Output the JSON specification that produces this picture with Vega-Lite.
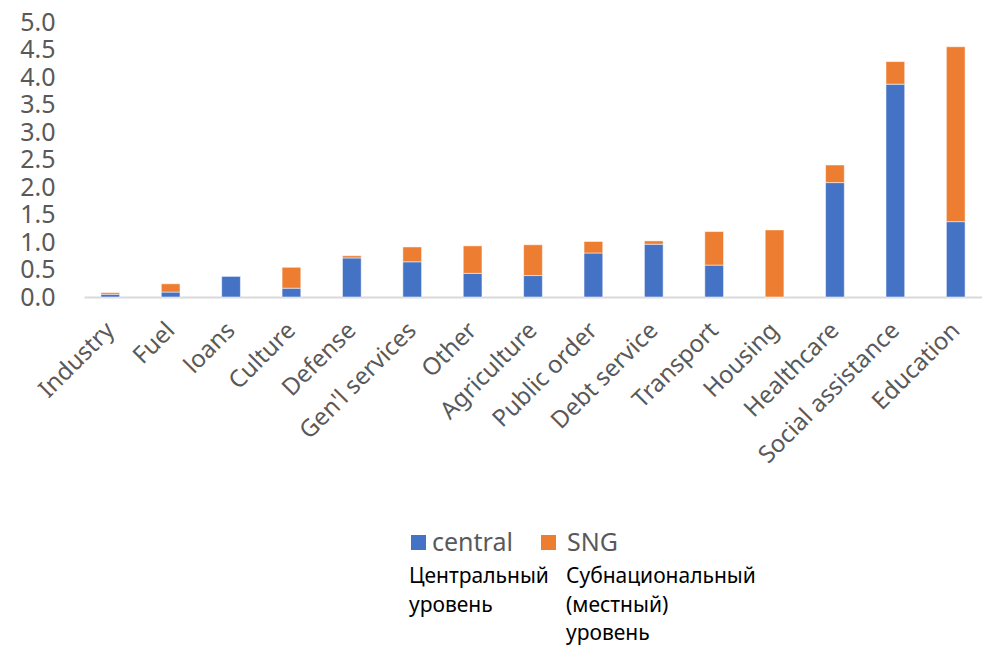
{
  "$schema": "https://vega.github.io/schema/vega-lite/v6.json",
  "autosize": {"type": "none"},
  "padding": {"left": 84, "top": 22, "right": 0, "bottom": 348},
  "width": 898,
  "height": 275,
  "background": "white",
  "data": {
    "values": [
      {"category": "Industry", "series": "central", "value": 0.05},
      {"category": "Industry", "series": "SNG", "value": 0.03},
      {"category": "Fuel", "series": "central", "value": 0.09},
      {"category": "Fuel", "series": "SNG", "value": 0.15},
      {"category": "loans", "series": "central", "value": 0.38},
      {"category": "loans", "series": "SNG", "value": 0.0},
      {"category": "Culture", "series": "central", "value": 0.16},
      {"category": "Culture", "series": "SNG", "value": 0.38},
      {"category": "Defense", "series": "central", "value": 0.71},
      {"category": "Defense", "series": "SNG", "value": 0.04},
      {"category": "Gen'l services", "series": "central", "value": 0.64},
      {"category": "Gen'l services", "series": "SNG", "value": 0.27},
      {"category": "Other", "series": "central", "value": 0.43},
      {"category": "Other", "series": "SNG", "value": 0.5},
      {"category": "Agriculture", "series": "central", "value": 0.39},
      {"category": "Agriculture", "series": "SNG", "value": 0.56},
      {"category": "Public order", "series": "central", "value": 0.8},
      {"category": "Public order", "series": "SNG", "value": 0.21},
      {"category": "Debt service", "series": "central", "value": 0.96},
      {"category": "Debt service", "series": "SNG", "value": 0.06},
      {"category": "Transport", "series": "central", "value": 0.58},
      {"category": "Transport", "series": "SNG", "value": 0.61},
      {"category": "Housing", "series": "central", "value": 0.0},
      {"category": "Housing", "series": "SNG", "value": 1.22},
      {"category": "Healthcare", "series": "central", "value": 2.08},
      {"category": "Healthcare", "series": "SNG", "value": 0.32},
      {"category": "Social assistance", "series": "central", "value": 3.87},
      {"category": "Social assistance", "series": "SNG", "value": 0.41},
      {"category": "Education", "series": "central", "value": 1.37},
      {"category": "Education", "series": "SNG", "value": 3.18}
    ]
  },
  "transform": [
    {"stack": "value", "groupby": ["category"], "sort": [{"field": "series", "order": "descending"}], "as": ["v0", "v1"]}
  ],
  "encoding": {
    "x": {
      "field": "category",
      "type": "nominal",
      "sort": null,
      "title": null,
      "scale": {"paddingInner": 0.69, "paddingOuter": 0.28},
      "axis": {
        "domainColor": "#d9d9d9",
        "domainWidth": 2,
        "ticks": false,
        "labelAngle": -45,
        "labelAlign": "right",
        "labelBaseline": "top",
        "labelPadding": 21,
        "labelOffset": -8,
        "labelFont": "Noto Sans",
        "labelFontSize": 24,
        "labelColor": "#595959",
        "labelLimit": 400
      }
    },
    "y": {
      "field": "v1",
      "type": "quantitative",
      "title": null,
      "scale": {"domain": [0, 5], "nice": false},
      "axis": {
        "values": [0, 0.5, 1, 1.5, 2, 2.5, 3, 3.5, 4, 4.5, 5],
        "format": ".1f",
        "grid": false,
        "domain": false,
        "ticks": false,
        "labelFont": "Noto Sans",
        "labelFontSize": 25,
        "labelColor": "#595959",
        "labelPadding": 29
      }
    },
    "y2": {"field": "v0"}
  },
  "layer": [
    {
      "transform": [{"filter": "datum.series == 'central'"}],
      "mark": {"type": "bar", "stroke": "#ffffff", "strokeWidth": 1, "strokeOpacity": 0.5},
      "encoding": {
        "color": {
          "field": "series",
          "type": "nominal",
          "scale": {"domain": ["central"], "range": ["#4472C4"]},
          "legend": {
            "orient": "none",
            "legendX": 325,
            "legendY": 508,
            "symbolOffset": -3,
            "labelOffset": 1,
            "title": ["Центральный", "уровень"],
            "titleOrient": "bottom"
          }
        }
      }
    },
    {
      "transform": [{"filter": "datum.series == 'SNG'"}],
      "mark": {"type": "bar", "stroke": "#ffffff", "strokeWidth": 1, "strokeOpacity": 0.5},
      "encoding": {
        "color": {
          "field": "series",
          "type": "nominal",
          "scale": {"domain": ["SNG"], "range": ["#ED7D31"]},
          "legend": {
            "orient": "none",
            "legendX": 482,
            "legendY": 508,
            "symbolOffset": -30,
            "labelOffset": 6,
            "title": ["Субнациональный", "(местный)", "уровень"],
            "titleOrient": "bottom"
          }
        }
      }
    }
  ],
  "resolve": {"scale": {"color": "independent"}, "legend": {"color": "independent"}},
  "config": {
    "view": {"stroke": null},
    "legend": {
      "padding": 0,
      "symbolType": "square",
      "symbolSize": 225,
      "symbolStrokeWidth": 0,
      "labelFont": "Noto Sans",
      "labelFontSize": 25,
      "labelColor": "#595959",
      "titleFont": "Noto Sans",
      "titleFontSize": 21,
      "titleFontWeight": "normal",
      "titleColor": "#000000",
      "titleLineHeight": 28.5,
      "titlePadding": 10,
      "titleAlign": "left",
      "titleAnchor": "start",
      "titleLimit": 400
    }
  }
}
